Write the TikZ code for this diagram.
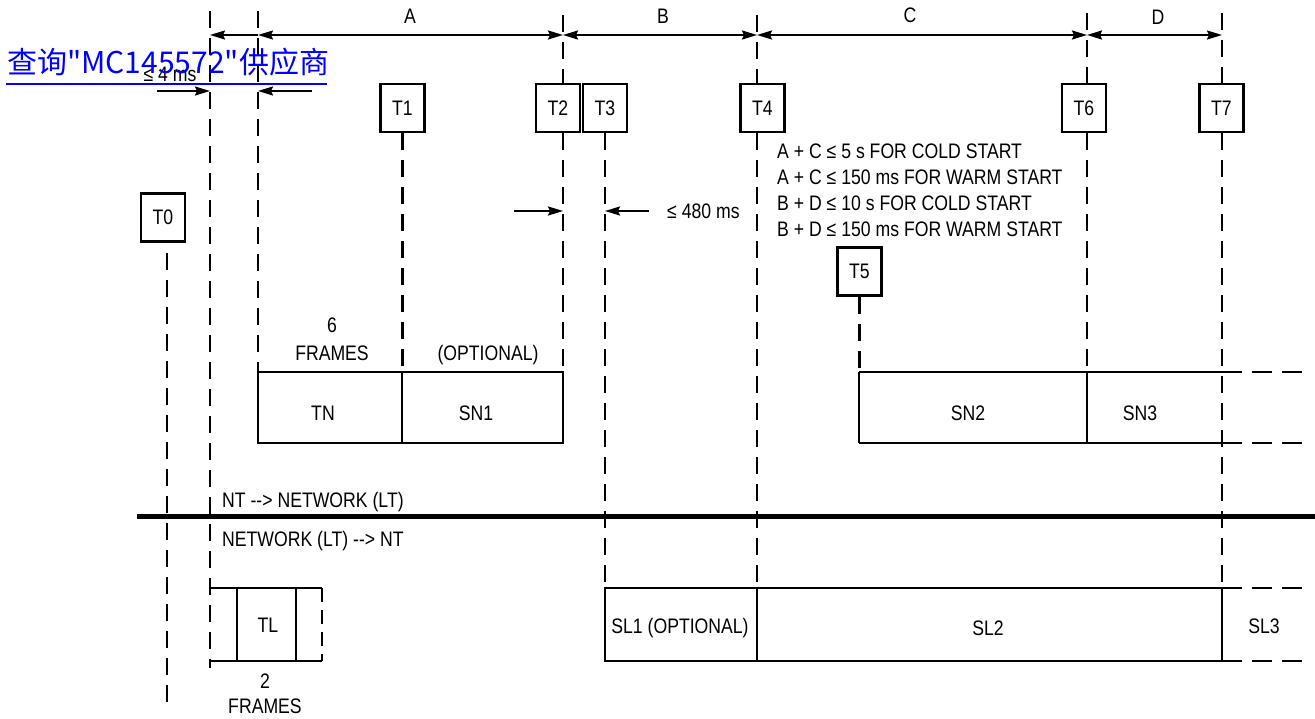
\documentclass[tikz,border=0pt]{standalone}
\usepackage{fontspec}
\setmainfont{Liberation Sans}[FakeStretch=0.84]
\newfontfamily\cjk{Noto Sans CJK SC}
\usetikzlibrary{arrows.meta}
\begin{document}
\begin{tikzpicture}[x=1pt,y=-1pt,
  every node/.style={font=\fontsize{21}{25}\selectfont, inner sep=0pt},
  dline/.style={line width=2.8pt, dash pattern=on 17pt off 10pt},
  sline/.style={line width=2.6pt},
  tbox/.style={draw, line width=2.6pt, minimum width=44pt, minimum height=48pt},
  tip/.tip={Stealth[length=15pt,width=9pt,inset=2pt]},
  dim/.style={line width=2.2pt, -tip},
  dimboth/.style={line width=2.2pt, tip-tip},
  lbl/.style={anchor=base},
  lblw/.style={anchor=base west}]
\useasboundingbox (0,0) rectangle (1315,719);

% time markers
\node[tbox] (T0) at (163,217.5) {T0};
\node[tbox] (T1) at (402.5,108) {T1};
\node[tbox] (T2) at (558,108) {T2};
\node[tbox] (T3) at (605,108) {T3};
\node[tbox] (T4) at (762.5,108) {T4};
\node[tbox] (T5) at (859.5,271.5) {T5};
\node[tbox] (T6) at (1084,108) {T6};
\node[tbox] (T7) at (1221.5,108) {T7};

% line tops / ends
\coordinate (l1top) at (210,11);
\coordinate (l1bot) at (210,668);
\coordinate (l2top) at (258,11);
\coordinate (t0bot) at (167,708);
\coordinate (t2top) at (563,15);
\coordinate (t4top) at (757,15);
\coordinate (t6top) at (1087,13);
\coordinate (t7top) at (1222,13);
\coordinate (upTop) at (0,372);
\coordinate (upBot) at (0,443);
\coordinate (dnTop) at (0,588);
\coordinate (dnBot) at (0,661);

% dashed vertical lines
\draw[dline] (l1top) -- (l1bot);
\draw[dline] (l2top) -- (l2top |- upTop);
\draw[dline] (t0bot |- T0.south) ++(0,10) -- (t0bot);
\draw[dline] (T1.south) -- (T1.south |- upTop);
\draw[dline] (t2top) -- (t2top |- T2.north);
\draw[dline] (t2top |- T2.south) -- (t2top |- upTop);
\draw[dline] (T3.south) -- (T3.south |- dnTop);
\draw[dline] (t4top) -- (t4top |- T4.north);
\draw[dline] (t4top |- T4.south) -- (t4top |- dnTop);
\draw[dline] (T5.south) -- (T5.south |- upTop);
\draw[dline] (t6top) -- (t6top |- T6.north);
\draw[dline] (t6top |- T6.south) -- (t6top |- upTop);
\draw[dline] (t7top) -- (t7top |- T7.north);
\draw[dline] (t7top |- T7.south) -- (t7top |- dnTop);

% upper frames
\draw[sline] (258,372) rectangle (402,443);
\draw[sline] (402,372) rectangle (563,443);
\draw[sline] (859,372) -- (1222,372) (859,443) -- (1222,443)
             (859,372) -- (859,443) (1087,372) -- (1087,443);
\draw[sline, dash pattern=on 20pt off 10pt] (1222,372) -- (1310,372) (1222,443) -- (1310,443);

% line separator
\draw[line width=5pt] (137,516) -- (1315,516);

% lower frames
\draw[sline] (210,588) -- (322,588) (210,661) -- (322,661)
             (237,588) -- (237,661) (296,588) -- (296,661);
\draw[dline, dash pattern=on 14pt off 8pt] (322,588) -- (322,661);
\draw[sline] (605,588) rectangle (757,661);
\draw[sline] (757,588) -- (1222,588) (757,661) -- (1222,661) (1222,588) -- (1222,661);
\draw[sline, dash pattern=on 20pt off 10pt] (1222,588) -- (1306,588) (1222,661) -- (1306,661);

% dimension arrows
\draw[dimboth] (258,35) -- (563,35);
\draw[dim] (258,35) -- (210,35);
\draw[dimboth] (563,35) -- (757,35);
\draw[dimboth] (757,35) -- (1087,35);
\draw[dimboth] (1087,35) -- (1222,35);
\draw[dim] (157,91) -- (210,91);
\draw[dim] (312,91) -- (258,91);
\draw[dim] (514,211) -- (563,211);
\draw[dim] (649,211) -- (605,211);

% labels
\node[lbl] (lA) at (410,24) {A};
\node[lbl] (lB) at (663,24) {B};
\node[lbl] (lC) at (910,23) {C};
\node[lbl] (lD) at (1158,25) {D};
\node[lbl] (l4ms) at (170,82) {≤ 4 ms};
\node[lblw] (l480) at (667,219) {≤ 480 ms};
\node[lblw] (c1) at (777,159) {A + C ≤ 5 s FOR COLD START};
\node[lblw] (c2) at (777,185) {A + C ≤ 150 ms FOR WARM START};
\node[lblw] (c3) at (777,211) {B + D ≤ 10 s FOR COLD START};
\node[lblw] (c4) at (777,237) {B + D ≤ 150 ms FOR WARM START};
\node[lbl] (six) at (332,333) {6};
\node[lbl] (fr6) at (332,360) {FRAMES};
\node[lbl] (opt) at (488,360) {(OPTIONAL)};
\node[lbl] (TN) at (323,420) {TN};
\node[lbl] (SN1) at (476,420) {SN1};
\node[lbl] (SN2) at (968,420) {SN2};
\node[lbl] (SN3) at (1140,420) {SN3};
\node[lblw] (ntlt) at (222,507) {NT -{}-> NETWORK (LT)};
\node[lblw] (ltnt) at (222,546) {NETWORK (LT) -{}-> NT};
\node[lbl] (TL) at (268,632) {TL};
\node[lbl] (two) at (265,688) {2};
\node[lbl] (fr2) at (265,713) {FRAMES};
\node[lbl] (SL1) at (680,633) {SL1 (OPTIONAL)};
\node[lbl] (SL2) at (988,635) {SL2};
\node[lbl] (SL3) at (1264,633) {SL3};

% overlay link text
\node[anchor=base west, text=blue, font=\cjk\fontsize{30}{35}\selectfont] (link) at (7,74) {查询"MC145572"供应商};
\draw[blue, line width=2pt] (6,84) -- (327,84);
\end{tikzpicture}
\end{document}
